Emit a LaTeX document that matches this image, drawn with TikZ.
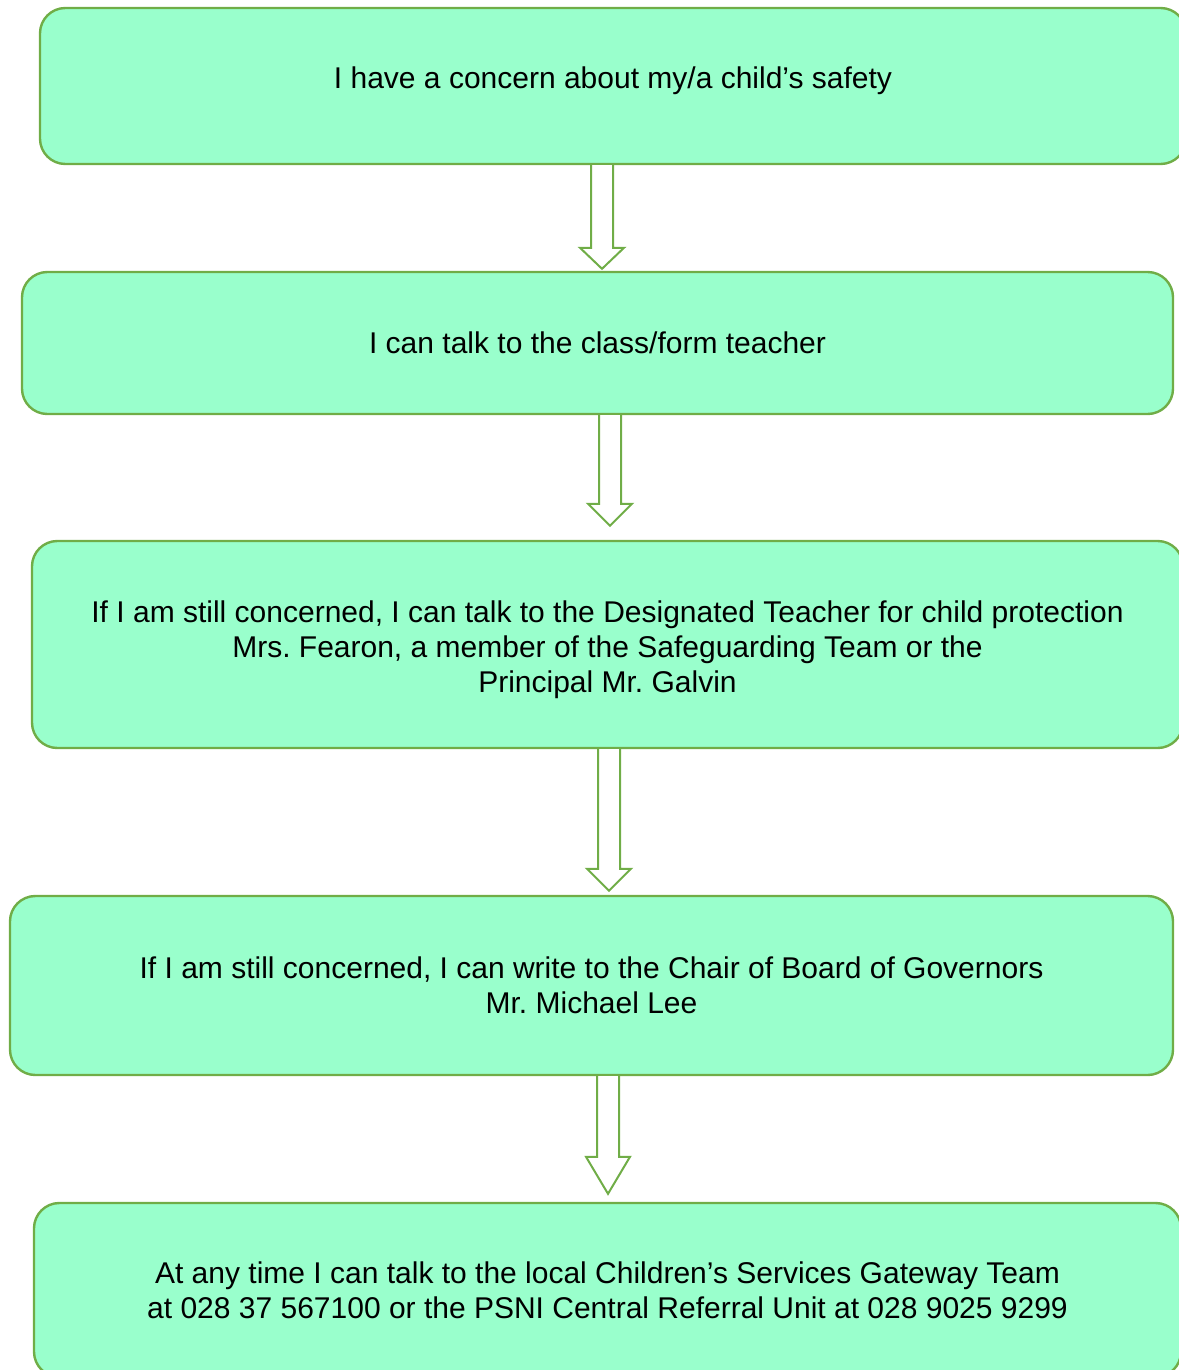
\documentclass[tikz,border=0pt]{standalone}
\usepackage{fontspec}
\setmainfont{Liberation Sans}
\usetikzlibrary{calc}
\definecolor{myfill}{RGB}{153,255,204}
\definecolor{myline}{RGB}{112,173,71}
\frenchspacing

\begin{document}
\begin{tikzpicture}[x=0.75pt,y=-0.75pt,
    every node/.style={font=\fontsize{22.5}{26.25}\selectfont},
    stepbox/.style={draw=myline,fill=myfill,line width=1.8pt,rounded corners=19pt,align=center,inner sep=0pt},
    blockarrow/.style={draw=myline,fill=white,line width=1.5pt,line join=miter}
    ]
    \useasboundingbox (0,0) rectangle (1178,1370);

    % the steps
    \node[stepbox,minimum width=859.5pt,minimum height=117pt] (box1) at (613,86)
        {\raisebox{12pt}{I have a concern about my/a child’s safety}};
    \node[stepbox,minimum width=863.25pt,minimum height=106.5pt] (box2) at (597.5,343)
        {\raisebox{1pt}{I can talk to the class/form teacher}};
    \node[stepbox,minimum width=863.25pt,minimum height=155.25pt] (box3) at (607.5,644.5)
        {\begin{tabular}{@{}c@{}}
         \rule{0pt}{27.4pt}If I am still concerned, I can talk to the Designated Teacher for child protection\\
         Mrs. Fearon, a member of the Safeguarding Team or the\\
         Principal Mr. Galvin\end{tabular}};
    \node[stepbox,minimum width=872.25pt,minimum height=134.25pt] (box4) at (591.5,985.5)
        {If I am still concerned, I can write to the Chair of Board of Governors\\
         Mr. Michael Lee};
    \node[stepbox,minimum width=860.25pt,minimum height=130.5pt] (box5) at (607.5,1290)
        {At any time I can talk to the local Children’s Services Gateway Team\\
         at 028 37 567100 or the PSNI Central Referral Unit at 028 9025 9299};

    % the arrows (gap = space left above the next box)
    \foreach \a/\b/\xa/\hl/\gap in {box1/box2/602/21/2,box2/box3/610/22/14,box3/box4/609/22/4,box4/box5/608/37/8}
    {
    \coordinate (ax) at (\xa,0);
    \draw[blockarrow] let \p1=(\a.south -| ax), \p2=($(\b.north -| ax)+(0,-\gap)$) in
        (\x1-8.25pt,\y1) -- (\x1-8.25pt,\y2+\hl*0.75pt) -- (\x1-16.5pt,\y2+\hl*0.75pt) -- (\x2,\y2)
        -- (\x1+16.5pt,\y2+\hl*0.75pt) -- (\x1+8.25pt,\y2+\hl*0.75pt) -- (\x1+8.25pt,\y1);
    }
\end{tikzpicture}
\end{document}
